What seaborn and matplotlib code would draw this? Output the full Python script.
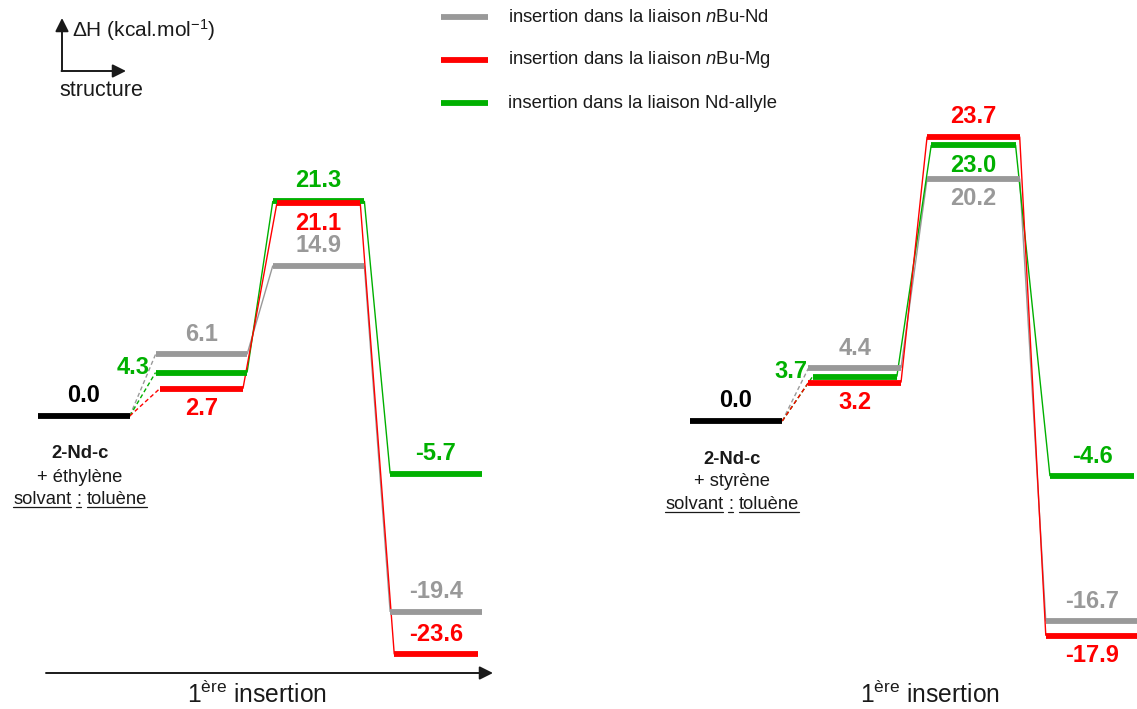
import matplotlib
matplotlib.use("Agg")
import numpy as np
import pandas as pd
import matplotlib.pyplot as plt
import seaborn as sns
from matplotlib.lines import Line2D

# ---------------- data ----------------
series_names = ["nBu-Nd", "nBu-Mg", "Nd-allyle"]
legend_labels = [r"insertion dans la liaison $\mathit{n}$Bu-Nd",
                 r"insertion dans la liaison $\mathit{n}$Bu-Mg",
                 "insertion dans la liaison Nd-allyle"]
start_energy = 0.0
# energies (kcal/mol) : pi-complex, transition state, product
eth_nBuNd = [6.1, 14.9, -19.4]
eth_nBuMg = [2.7, 21.1, -23.6]
eth_allyl = [4.3, 21.3, -5.7]
sty_nBuNd = [4.4, 20.2, -16.7]
sty_nBuMg = [3.2, 23.7, -17.9]
sty_allyl = [3.7, 23.0, -4.6]
monomers = ["+ éthylène", "+ styrène"]

# label placement (layout only)
eth_place = {"nBu-Nd": ["above", "above", "above"],
             "nBu-Mg": ["below", "below", "above"],
             "Nd-allyle": ["left", "above", "above"]}
sty_place = {"nBu-Nd": ["above", "below", "above"],
             "nBu-Mg": ["below", "above", "below"],
             "Nd-allyle": ["left", "below", "above"]}

palette = {"nBu-Nd": "#999999", "nBu-Mg": "#ff0000", "Nd-allyle": "#00b000", "ref": "#000000"}

# ---------------- style ----------------
sns.set_theme(style="white")
plt.rcParams["font.family"] = ["Liberation Sans", "DejaVu Sans"]
plt.rcParams["mathtext.fontset"] = "custom"
plt.rcParams["mathtext.rm"] = "Liberation Sans"
plt.rcParams["mathtext.it"] = "Liberation Sans:italic"
plt.rcParams["mathtext.bf"] = "Liberation Sans:bold"

W, H = 1137, 709
fig = plt.figure(figsize=(W / 100, H / 100), dpi=100)
fig.patch.set_facecolor("white")

HW = 0.39          # half width of an energy level (stage units)
HW_NARROW = 0.355  # half width of the inner (narrower) level series
LBL_OFF = 14.5     # label offset in points
LBL_FS = 17


def build_frames(panel_values, narrow):
    lev, con = [], []
    lev += [dict(series="ref", seg="ref", x=-HW, y=start_energy),
            dict(series="ref", seg="ref", x=HW, y=start_energy)]
    for s, vals in panel_values.items():
        hw = HW_NARROW if s == narrow else HW
        prev = start_energy
        prev_hw = HW
        for i, v in enumerate(vals):
            st = i + 1
            lev += [dict(series=s, seg=f"{s}L{st}", x=st - hw, y=v),
                    dict(series=s, seg=f"{s}L{st}", x=st + hw, y=v)]
            kind = "dashed" if i == 0 else "solid"
            con += [dict(series=s, seg=f"{s}C{st}", kind=kind, x=st - 1 + prev_hw, y=prev),
                    dict(series=s, seg=f"{s}C{st}", kind=kind, x=st - hw, y=v)]
            prev, prev_hw = v, hw
    return pd.DataFrame(lev), pd.DataFrame(con)


def draw_panel(rect, xlim, zero_px, scale, panel_values, place, narrow, order):
    ax = fig.add_axes(rect)
    ax.set_xlim(*xlim)
    ax.set_ylim(-(H - zero_px) / scale, zero_px / scale)
    ax.set_axis_off()
    lev, con = build_frames(panel_values, narrow)
    sns.lineplot(data=con, x="x", y="y", hue="series", style="kind", units="seg",
                 estimator=None, sort=False, palette=palette,
                 dashes={"dashed": (3, 2), "solid": ""}, linewidth=1.0,
                 legend=False, ax=ax, clip_on=False, solid_capstyle="butt")
    sns.lineplot(data=lev, x="x", y="y", hue="series", hue_order=order, units="seg",
                 estimator=None, sort=False, palette=palette, linewidth=4.2,
                 legend=False, ax=ax, clip_on=False, solid_capstyle="butt")
    ax.annotate(f"{start_energy:.1f}", (0, start_energy), xytext=(0, LBL_OFF),
                textcoords="offset points", ha="center", va="center",
                fontsize=LBL_FS, fontweight="bold", color="#000000")
    for s, vals in panel_values.items():
        hw = HW_NARROW if s == narrow else HW
        for i, v in enumerate(vals):
            st = i + 1
            p = place[s][i]
            if p == "above":
                xy, off, ha = (st, v), (0, LBL_OFF), "center"
            elif p == "below":
                xy, off, ha = (st, v), (0, -LBL_OFF), "center"
            else:
                xy, off, ha = (st - hw, v), (-4, 4), "right"
            ax.annotate(f"{v:.1f}", xy, xytext=off, textcoords="offset points",
                        ha=ha, va="center", fontsize=LBL_FS, fontweight="bold",
                        color=palette[s], annotation_clip=False)
    return ax


left_w = 570
# left panel: stage 0 centre at 84 px, 117.3 px per stage
LZ, LS = 416, 10.1
draw_panel([0, 0, left_w / W, 1], (-84 / 117.3, (left_w - 84) / 117.3), LZ, LS,
           {"nBu-Nd": eth_nBuNd, "Nd-allyle": eth_allyl, "nBu-Mg": eth_nBuMg}, eth_place,
           narrow="nBu-Mg", order=["ref", "nBu-Nd", "Nd-allyle", "nBu-Mg"])
# right panel: stage 0 centre at 736 px, 118.7 px per stage
RZ, RS = 421, 12.0
draw_panel([left_w / W, 0, (W - left_w) / W, 1],
           (-(736 - left_w) / 118.7, (W - 736) / 118.7), RZ, RS,
           {"nBu-Nd": sty_nBuNd, "Nd-allyle": sty_allyl, "nBu-Mg": sty_nBuMg}, sty_place,
           narrow="Nd-allyle", order=["ref", "nBu-Nd", "nBu-Mg", "Nd-allyle"])

# ---------------- overlay in pixel coordinates ----------------
ov = fig.add_axes([0, 0, 1, 1])
ov.set_xlim(0, W)
ov.set_ylim(H, 0)
ov.set_axis_off()
ov.patch.set_visible(False)
TXT = "#1a1a1a"
arrow_kw = dict(arrowstyle="-|>", lw=1.4, color=TXT, mutation_scale=20, shrinkA=0, shrinkB=0)

# axes indicator
ov.annotate("", xy=(62, 18), xytext=(62, 71), arrowprops=arrow_kw)
ov.annotate("", xy=(126, 71), xytext=(61.5, 71), arrowprops=arrow_kw)
ov.text(72, 30, r"ΔH (kcal.mol$^{-1}$)", fontsize=15, ha="left", va="center", color=TXT)
ov.text(59, 90, "structure", fontsize=15.5, ha="left", va="center", color=TXT)

# legend
for k, (s, lab) in enumerate(zip(series_names, legend_labels)):
    y = 17 + 43 * k
    ov.add_line(Line2D([441, 488], [y, y], color=palette[s], lw=4.2, solid_capstyle="butt"))
    ov.text(508, y, lab, fontsize=13.3, ha="left", va="center", color=TXT)

# bottom arrows
ov.annotate("", xy=(493, 673), xytext=(46, 673), arrowprops=arrow_kw)
ov.text(257, 694, r"1$^{\mathrm{ère}}$ insertion", fontsize=17.7, ha="center", va="center", color=TXT)
ov.annotate("", xy=(1140, 674), xytext=(668, 674), arrowprops=arrow_kw)
ov.text(930, 694, r"1$^{\mathrm{ère}}$ insertion", fontsize=17.7, ha="center", va="center", color=TXT)

renderer = fig.canvas.get_renderer()


def width_of(s, fs):
    t = ov.text(0, 0, s, fontsize=fs)
    w = t.get_window_extent(renderer).width
    t.remove()
    return w


def underlined(cx, y, tokens, fs):
    space = width_of("a a", fs) - width_of("aa", fs)
    widths = [width_of(t, fs) for t in tokens]
    total = sum(widths) + space * (len(tokens) - 1)
    x = cx - total / 2
    for tok, w in zip(tokens, widths):
        ov.text(x, y, tok, fontsize=fs, ha="left", va="baseline", color=TXT)
        ov.add_line(Line2D([x, x + w], [y + 3, y + 3], color=TXT, lw=0.9))
        x += w + space


FS_SMALL = 13.2
for cx, zero, mono in [(80, LZ, monomers[0]), (732, RZ, monomers[1])]:
    ov.text(cx, zero + 38, "2-Nd-c", fontsize=FS_SMALL, fontweight="bold", ha="center", va="center", color=TXT)
    ov.text(cx, zero + 61, mono, fontsize=FS_SMALL, ha="center", va="center", color=TXT)
    underlined(cx, zero + 88, ["solvant", ":", "toluène"], FS_SMALL)

fig.savefig("out.png", dpi=100, facecolor="white")
